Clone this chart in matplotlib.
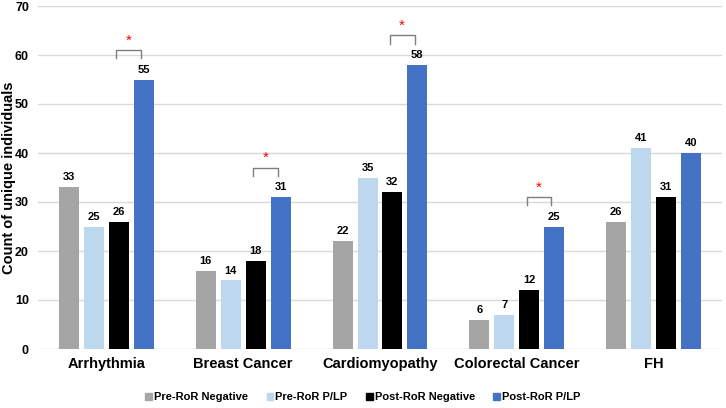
import numpy as np
import matplotlib
matplotlib.use('Agg')
import matplotlib.pyplot as plt
from matplotlib.patches import Patch

categories = ['Arrhythmia', 'Breast Cancer', 'Cardiomyopathy', 'Colorectal Cancer', 'FH']
series_names = ['Pre-RoR Negative', 'Pre-RoR P/LP', 'Post-RoR Negative', 'Post-RoR P/LP']
pre_neg = [33, 16, 22, 6, 26]
pre_plp = [25, 14, 35, 7, 41]
post_neg = [26, 18, 32, 12, 31]
post_plp = [55, 31, 58, 25, 40]
colors = ['#A5A5A5', '#BDD7EE', '#000000', '#4472C4']
# groups with a significance bracket between the two post-RoR bars
signif = [0, 1, 2, 3]

series = [pre_neg, pre_plp, post_neg, post_plp]

plt.rcParams['font.family'] = ['Liberation Sans', 'DejaVu Sans']
fig = plt.figure(figsize=(7.26, 4.08), dpi=100)
ax = fig.add_axes([38 / 726, 1 - 349 / 408, 684 / 726, 343 / 408])

x = np.arange(len(categories))
step = 0.182
width = 0.146
for i, (vals, c) in enumerate(zip(series, colors)):
    pos = x + (i - 1.5) * step
    ax.bar(pos, vals, width, color=c, zorder=3, label=series_names[i])
    for p, v in zip(pos, vals):
        ax.text(p, v + 1.0, str(v), ha='center', va='bottom', fontsize=8,
                fontweight='bold', zorder=4)

for g in signif:
    x0 = x[g] + 0.5 * step - 0.02
    x1 = x[g] + 1.5 * step - 0.02
    top = post_plp[g] + 6
    ax.plot([x0, x0, x1, x1], [top - 1.7, top, top, top - 1.7],
            color='#7F7F7F', lw=1, zorder=4)
    ax.text((x0 + x1) / 2, top + 0.5, '*', color='red', ha='center',
            va='bottom', fontsize=11)

ax.set_xlim(-0.5, len(categories) - 0.5)
ax.set_ylim(0, 70)
ax.set_yticks(range(0, 71, 10))
ax.set_xticks(x)
ax.set_xticklabels(categories, fontsize=10.5, fontweight='bold')
for t in ax.get_yticklabels():
    t.set_fontweight('bold')
    t.set_fontsize(9)
ax.tick_params(length=0)
ax.tick_params(axis='y', pad=6.5)
ax.tick_params(axis='x', pad=6)
ax.yaxis.grid(True, color='#D9D9D9', lw=1, zorder=0)
for s in ax.spines.values():
    s.set_visible(False)
ax.set_ylabel('Count of unique individuals', fontsize=10.5, fontweight='bold')
ax.yaxis.set_label_coords(-22 / 684, 0.5)

handles = [Patch(color=c, label=n) for c, n in zip(colors, series_names)]
fig.legend(handles=handles, loc='center', bbox_to_anchor=(0.5, 1 - 397 / 408),
           ncol=4, frameon=False, prop={'weight': 'bold', 'size': 8},
           handlelength=0.6, handleheight=0.6, handletextpad=0.2, columnspacing=1.65)

fig.savefig('out.png', dpi=100)
